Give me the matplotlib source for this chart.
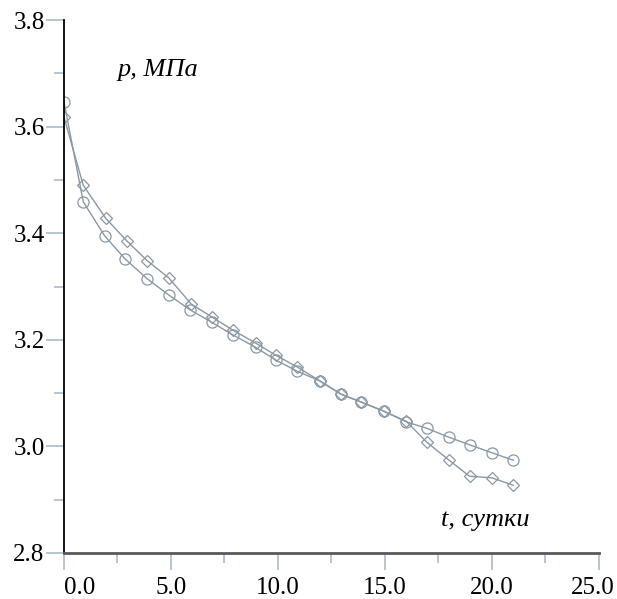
import matplotlib
matplotlib.use("Agg")
import matplotlib.pyplot as plt
from matplotlib.transforms import ScaledTranslation

# time, days
t_circ = [0.0, 0.9, 1.9, 2.85, 3.9, 4.9, 5.9, 6.9, 7.9, 8.95, 9.9, 10.9, 11.95, 12.95, 13.9, 14.95, 16.0, 16.95, 18.0, 18.95, 20.0, 21.0]
p_circ = [3.646, 3.459, 3.395, 3.352, 3.314, 3.284, 3.256, 3.233, 3.209, 3.186, 3.162, 3.141, 3.123, 3.098, 3.083, 3.066, 3.046, 3.034, 3.017, 3.003, 2.988, 2.974]

t_diam = [0.0, 0.9, 1.95, 2.95, 3.9, 4.9, 5.95, 6.9, 7.9, 8.95, 9.9, 10.9, 11.95, 12.95, 13.9, 14.95, 16.0, 16.95, 18.0, 18.95, 20.0, 21.0]
p_diam = [3.618, 3.490, 3.428, 3.385, 3.348, 3.316, 3.267, 3.243, 3.218, 3.194, 3.171, 3.149, 3.123, 3.098, 3.083, 3.066, 3.047, 3.008, 2.974, 2.944, 2.941, 2.927]

x_ticks = [0, 5, 10, 15, 20, 25]
y_ticks = [2.8, 3.0, 3.2, 3.4, 3.6, 3.8]

plt.rcParams['font.family'] = ['Liberation Serif', 'DejaVu Serif']

fig = plt.figure(figsize=(6.17, 5.99), dpi=100)
ax = fig.add_axes([0.1037, 0.0768, 0.8671, 0.8898])

line_c = '#8a99a4'
ax.plot(t_diam, p_diam, color=line_c, lw=1.0, marker='D', markersize=6.5,
        markerfacecolor='none', markeredgecolor=line_c, markeredgewidth=0.9)
ax.plot(t_circ, p_circ, color=line_c, lw=1.0, marker='o', markersize=8,
        markerfacecolor='none', markeredgecolor=line_c, markeredgewidth=0.9)

ax.set_xlim(0, 25)
ax.set_ylim(2.8, 3.8)
ax.set_xticks(x_ticks)
ax.set_xticklabels([f'{v:.1f}' for v in x_ticks])
ax.set_yticks(y_ticks)
ax.set_yticklabels([f'{v:.1f}' for v in y_ticks])
ax.set_xticks([2.5, 7.5, 12.5, 17.5, 22.5], minor=True)
ax.set_yticks([2.9, 3.1, 3.3, 3.5, 3.7], minor=True)

tick_c = '#a9bccb'
ax.tick_params(axis='both', which='major', direction='out', color=tick_c,
               labelsize=18, width=1.2)
ax.tick_params(axis='x', which='major', length=12, pad=5)
ax.tick_params(axis='y', which='major', length=13, pad=1)
ax.tick_params(axis='both', which='minor', direction='out', color=tick_c,
               length=7, width=1.2)

for s in ['top', 'right']:
    ax.spines[s].set_visible(False)
ax.spines['left'].set_color('black')
ax.spines['left'].set_linewidth(1.3)
ax.spines['bottom'].set_color('#5a5a5a')
ax.spines['bottom'].set_linewidth(2.0)

# shift the first and last x labels like in the source
xl = ax.get_xticklabels()
xl[0].set_transform(xl[0].get_transform() + ScaledTranslation(0.16, 0, fig.dpi_scale_trans))
xl[-1].set_transform(xl[-1].get_transform() + ScaledTranslation(-0.06, 0, fig.dpi_scale_trans))

ax.text(2.5, 3.706, 'p, МПа', fontsize=19, style='italic', ha='left', va='center')
ax.text(17.6, 2.862, 't, сутки', fontsize=19, style='italic', ha='left', va='center')

fig.savefig('out.png', dpi=100)
